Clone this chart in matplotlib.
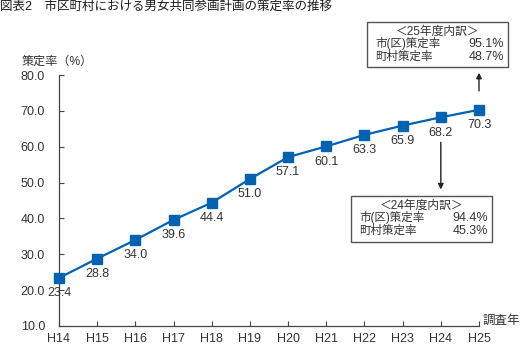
import matplotlib
matplotlib.use("Agg")
import matplotlib.pyplot as plt
from matplotlib.patches import Rectangle

plt.rcParams['font.family'] = ['Liberation Sans', 'Noto Sans CJK JP']

years = ['H14', 'H15', 'H16', 'H17', 'H18', 'H19', 'H20', 'H21', 'H22', 'H23', 'H24', 'H25']
rate = [23.4, 28.8, 34.0, 39.6, 44.4, 51.0, 57.1, 60.1, 63.3, 65.9, 68.2, 70.3]
yticks = [10, 20, 30, 40, 50, 60, 70, 80]

box25_title = '＜25年度内訳＞'
box24_title = '＜24年度内訳＞'
box_rows = ['市(区)策定率', '町村策定率']
box25_vals = ['95.1%', '48.7%']
box24_vals = ['94.4%', '45.3%']

W, H = 520, 345
blue = '#0062b0'
dark = '#333333'


def fx(x):
    return x / W


def fy(y):
    return 1 - y / H


fig = plt.figure(figsize=(W / 100, H / 100), dpi=100)
ax = fig.add_axes([fx(59), fy(326), fx(479) - fx(59), fy(75) - fy(326)])

xs = list(range(len(years)))
ax.plot(xs, rate, color=blue, linewidth=1.6, marker='s', markersize=7.2,
        markeredgecolor=blue, markerfacecolor=blue, clip_on=False, zorder=3)
for x, v in zip(xs, rate):
    ax.annotate(f'{v:.1f}', (x, v), xytext=(0, -11), textcoords='offset points',
                ha='center', va='center', fontsize=9, color=dark)

ax.set_xlim(0, len(years) - 1)
ax.set_ylim(10, 80)
ax.set_xticks(xs)
ax.set_xticklabels(years)
ax.set_yticks(yticks)
ax.set_yticklabels([f'{t:.1f}' for t in yticks])
ax.tick_params(axis='both', direction='in', length=3.5, width=0.8, colors='#444444',
               labelcolor=dark, labelsize=9)
ax.tick_params(axis='y', pad=10)
ax.tick_params(axis='x', pad=5)
for s in ['top', 'right']:
    ax.spines[s].set_visible(False)
for s in ['left', 'bottom']:
    ax.spines[s].set_color('#444444')
    ax.spines[s].set_linewidth(0.9)

# arrows from the last two points to the breakdown boxes
arrow = dict(arrowstyle='-|>', color='#222222', lw=1.0, mutation_scale=8)
ax.annotate('', xy=(11, 81.4), xytext=(11, 74.8), arrowprops=arrow, annotation_clip=False)
ax.annotate('', xy=(10, 47.3), xytext=(10, 62.0), arrowprops=arrow, annotation_clip=False)

fig.text(fx(0), fy(8), '図表2　市区町村における男女共同参画計画の策定率の推移',
         fontsize=9, color='#1a1a1a', va='center', ha='left')
fig.text(fx(22), fy(62), '策定率（%）', fontsize=8.7, color=dark, va='center', ha='left')
fig.text(fx(483), fy(321), '調査年', fontsize=9, color=dark, va='center', ha='left')


def breakdown(left, top, right, bottom, title, vals):
    fig.patches.append(Rectangle((fx(left), fy(bottom)), fx(right) - fx(left),
                                 fy(top) - fy(bottom), transform=fig.transFigure,
                                 facecolor='white', edgecolor='#555555', linewidth=1.0))
    fig.text(fx((left + right) / 2), fy(top + 10), title, fontsize=8.5, color=dark,
             ha='center', va='center')
    for i, (name, val) in enumerate(zip(box_rows, vals)):
        y = top + 22 + i * 12.5
        fig.text(fx(left + 8), fy(y), name, fontsize=8.3, color=dark, ha='left', va='center')
        fig.text(fx(right - 4), fy(y), val, fontsize=9, color=dark, ha='right', va='center')


breakdown(367, 22, 508, 67, box25_title, box25_vals)
breakdown(351, 196, 492, 242, box24_title, box24_vals)

fig.savefig('out.png', dpi=100)
